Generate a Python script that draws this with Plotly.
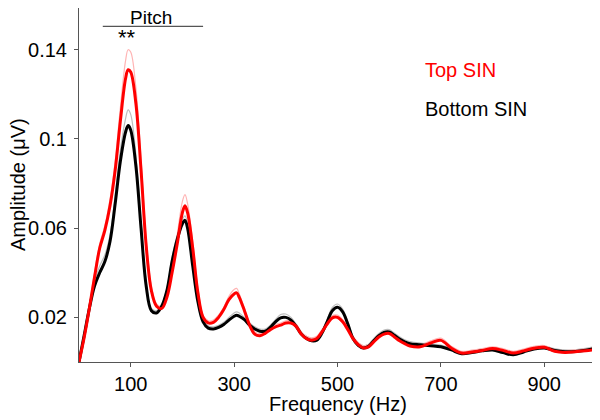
"""Amplitude spectrum, Top SIN vs Bottom SIN listeners."""

import plotly.graph_objects as go

# frequency grid (Hz)
freqs = [0, 10, 20, 30, 40, 50, 60, 70, 80, 90, 95, 100,
         110, 120, 130, 140, 150, 160, 170, 180, 190, 200, 205,
         210, 220, 230, 240, 250, 260, 270, 280, 290, 300, 305,
         310, 320, 330, 340, 350, 360, 370, 380, 390, 400, 410, 420,
         430, 440, 450, 460, 470, 480, 490, 500, 510, 520, 530, 540,
         550, 560, 570, 580, 590, 600, 610, 620, 630, 640, 660, 680,
         700, 720, 740, 760, 780, 800, 820, 840, 860, 880, 900, 920,
         940, 960, 980, 1000]

# mean amplitude (uV)
top_sin = [0, 0.011, 0.024, 0.038, 0.051, 0.059, 0.070, 0.086, 0.108, 0.127, 0.131, 0.130,
           0.116, 0.086, 0.052, 0.032, 0.025, 0.024, 0.029, 0.040, 0.053, 0.067, 0.070,
           0.067, 0.051, 0.031, 0.020, 0.0175, 0.0178, 0.020, 0.0235, 0.028, 0.0305, 0.031,
           0.029, 0.023, 0.0165, 0.0125, 0.0118, 0.0128, 0.0145, 0.0158, 0.0165, 0.0175, 0.0175, 0.016,
           0.0125, 0.0105, 0.0098, 0.0105, 0.0135, 0.017, 0.0198, 0.020, 0.018, 0.0145, 0.0105, 0.0078,
           0.0063, 0.0068, 0.009, 0.0112, 0.0125, 0.0128, 0.0112, 0.0095, 0.0082, 0.0072, 0.0068, 0.0085,
           0.0097, 0.0063, 0.004, 0.0045, 0.0052, 0.006, 0.0052, 0.004, 0.005, 0.0062, 0.0066, 0.0048,
           0.0043, 0.0046, 0.005, 0.0057]

bottom_sin = [0, 0.012, 0.024, 0.034, 0.040, 0.045, 0.054, 0.071, 0.090, 0.103, 0.106, 0.104,
              0.088, 0.060, 0.034, 0.023, 0.022, 0.025, 0.032, 0.045, 0.055, 0.062, 0.0635,
              0.060, 0.043, 0.027, 0.018, 0.0152, 0.0148, 0.0155, 0.0168, 0.0188, 0.0205, 0.021,
              0.0205, 0.019, 0.0165, 0.0148, 0.0138, 0.0138, 0.0155, 0.018, 0.0198, 0.020, 0.0188, 0.016,
              0.0125, 0.0105, 0.0095, 0.0098, 0.013, 0.018, 0.023, 0.0245, 0.0225, 0.017, 0.0105, 0.0075,
              0.0063, 0.007, 0.0095, 0.0118, 0.0133, 0.0135, 0.012, 0.0103, 0.009, 0.0082, 0.0077, 0.0073,
              0.0068, 0.0054, 0.0037, 0.0042, 0.005, 0.0054, 0.0042, 0.0032, 0.0045, 0.0058, 0.0063, 0.0052,
              0.0046, 0.0047, 0.0053, 0.0062]

# standard error (uV)
top_sem = [0, 0.001, 0.001, 0.002, 0.002, 0.002, 0.003, 0.004, 0.006, 0.008, 0.009, 0.009,
           0.007, 0.005, 0.003, 0.002, 0.001, 0.001, 0.002, 0.003, 0.004, 0.005, 0.005,
           0.004, 0.003, 0.002, 0.001, 0.001, 0.001, 0.001, 0.001, 0.0015, 0.002, 0.002,
           0.0015, 0.001, 0.001, 0.001, 0.001, 0.001, 0.001, 0.001, 0.001, 0.001, 0.001, 0.001,
           0.001, 0.001, 0.001, 0.001, 0.001, 0.001, 0.001, 0.001, 0.001, 0.001, 0.001, 0.001,
           0.001, 0.001, 0.001, 0.001, 0.001, 0.001, 0.001, 0.001, 0.001, 0.001, 0.001, 0.001,
           0.001, 0.0008, 0.0008, 0.0008, 0.0008, 0.0008, 0.0008, 0.0008, 0.0008, 0.0008, 0.0008, 0.0008,
           0.0008, 0.0008, 0.0008, 0.0008]

bottom_sem = [0, 0.001, 0.001, 0.002, 0.003, 0.003, 0.003, 0.004, 0.005, 0.006, 0.007, 0.007,
              0.005, 0.003, 0.002, 0.001, 0.001, 0.001, 0.001, 0.002, 0.002, 0.002, 0.002,
              0.002, 0.002, 0.001, 0.001, 0.001, 0.001, 0.001, 0.001, 0.0012, 0.0015, 0.0015,
              0.0015, 0.001, 0.001, 0.001, 0.001, 0.001, 0.001, 0.001, 0.0015, 0.0015, 0.0012, 0.001,
              0.001, 0.001, 0.001, 0.001, 0.001, 0.001, 0.0015, 0.0015, 0.0012, 0.001, 0.001, 0.001,
              0.001, 0.001, 0.001, 0.001, 0.001, 0.001, 0.001, 0.001, 0.001, 0.001, 0.0008, 0.0008,
              0.0008, 0.0008, 0.0008, 0.0008, 0.0008, 0.0008, 0.0008, 0.0008, 0.0008, 0.0008, 0.0008, 0.0008,
              0.0008, 0.0008, 0.0008, 0.0008]

x_ticks = [100, 300, 500, 700, 900]
y_ticks = [0.02, 0.06, 0.1, 0.14]
y_tick_text = ["0.02", "0.06", "0.1", "0.14"]

FONT = "Arial, Liberation Sans, sans-serif"

top_upper = [m + s for m, s in zip(top_sin, top_sem)]
bottom_upper = [m + s for m, s in zip(bottom_sin, bottom_sem)]

fig = go.Figure()
fig.add_trace(go.Scatter(x=freqs, y=bottom_upper, mode="lines", line_shape="spline",
                         line=dict(color="#bdbdbd", width=1.2)))
fig.add_trace(go.Scatter(x=freqs, y=top_upper, mode="lines", line_shape="spline",
                         line=dict(color="#ffb4b4", width=1.2)))
fig.add_trace(go.Scatter(x=freqs, y=bottom_sin, mode="lines", line_shape="spline",
                         line=dict(color="#000000", width=3)))
fig.add_trace(go.Scatter(x=freqs, y=top_sin, mode="lines", line_shape="spline",
                         line=dict(color="#ff0000", width=3)))

# "Pitch" bracket and significance marker
fig.add_shape(type="line", x0=46, x1=240, y0=0.1505, y1=0.1505,
              line=dict(color="#555555", width=1.2))
fig.add_annotation(x=139, y=0.1506, yshift=-3, text="Pitch", showarrow=False,
                   yanchor="bottom", borderpad=0,
                   font=dict(size=19, color="black", family=FONT))
fig.add_annotation(x=93, y=0.1455, text="**", showarrow=False,
                   font=dict(size=22, color="black", family=FONT))

# text legend
fig.add_annotation(x=665, y=0.131, text="Top SIN", showarrow=False, xanchor="left",
                   font=dict(size=20, color="#ff0000", family=FONT))
fig.add_annotation(x=665, y=0.1132, text="Bottom SIN", showarrow=False, xanchor="left",
                   font=dict(size=20, color="black", family=FONT))

# axis titles placed by hand so the margins stay fixed
fig.add_annotation(xref="paper", yref="paper", x=0.5, y=0, yshift=-42,
                   text="Frequency (Hz)", showarrow=False, yanchor="middle",
                   font=dict(size=20, color="black", family=FONT))
fig.add_annotation(xref="paper", yref="paper", x=0, y=0.5, xshift=-61,
                   text="Amplitude (μV)", showarrow=False, textangle=-90,
                   xanchor="center", yanchor="middle", borderpad=0,
                   font=dict(size=20, color="black", family=FONT))

# page body has an 8px margin, so the figure is 8px smaller each way
fig.update_layout(
    width=592,
    height=412,
    margin=dict(l=71, r=4, t=0, b=58, autoexpand=False),
    plot_bgcolor="white",
    paper_bgcolor="white",
    showlegend=False,
    font=dict(family=FONT, color="black", size=20),
    xaxis=dict(
        range=[0, 1000],
        tickvals=x_ticks,
        ticks="outside",
        ticklen=4,
        tickcolor="#555555",
        ticklabelstandoff=0,
        showline=True,
        linecolor="#555555",
        showgrid=False,
        zeroline=False,
        automargin=False,
    ),
    yaxis=dict(
        range=[0, 0.1587],
        tickvals=y_ticks,
        ticktext=y_tick_text,
        ticks="outside",
        ticklen=4,
        tickcolor="#555555",
        ticklabelstandoff=3,
        showline=True,
        linecolor="#555555",
        showgrid=False,
        zeroline=False,
        automargin=False,
    ),
)

fig.write_html("out.html")
